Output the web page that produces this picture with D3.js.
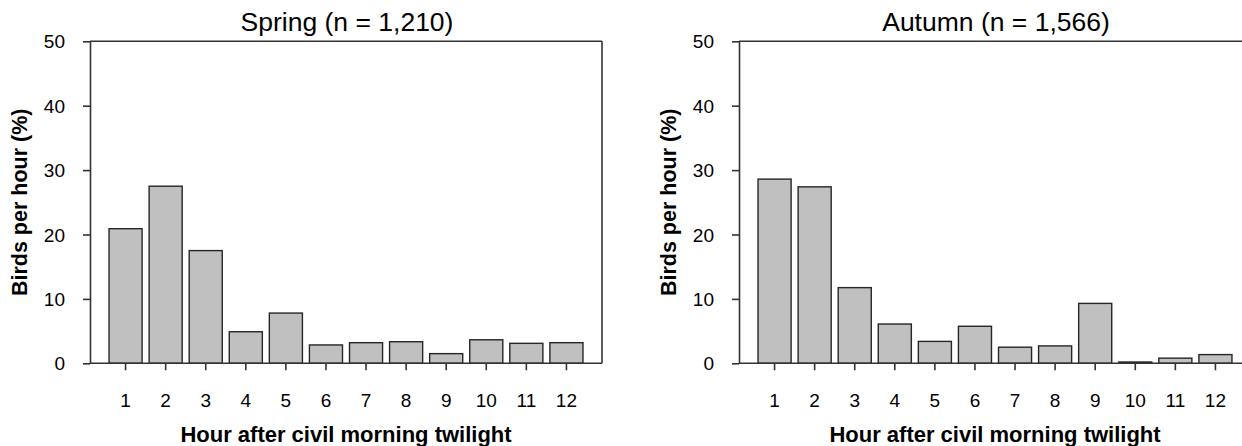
<!DOCTYPE html>
<html>
<head>
<meta charset="utf-8">
<script src="https://cdn.jsdelivr.net/npm/d3@7"></script>
<style>
  html, body { margin: 0; padding: 0; background: #fff; }
  svg { display: block; }
  text { font-family: "Liberation Sans", Arial, sans-serif; fill: #000; }
</style>
</head>
<body>
<svg id="chart" width="1242" height="446"></svg>
<script>
// ---- data ----
const hours = [1, 2, 3, 4, 5, 6, 7, 8, 9, 10, 11, 12];
const springValues = [20.9, 27.5, 17.5, 4.9, 7.8, 2.85, 3.2, 3.35, 1.5, 3.65, 3.1, 3.2];
const autumnValues = [28.6, 27.4, 11.75, 6.1, 3.4, 5.75, 2.5, 2.7, 9.3, 0.2, 0.8, 1.35];
const panelTitles = ["Spring (n = 1,210)", "Autumn (n = 1,566)"];
const yTicks = [0, 10, 20, 30, 40, 50];
const xAxisTitle = "Hour after civil morning twilight";
const yAxisTitle = "Birds per hour (%)";

(function () {
  const svg = d3.select("#chart");
  const panels = [
    { title: panelTitles[0], values: springValues, left: 90 },
    { title: panelTitles[1], values: autumnValues, left: 739 }
  ];
  const plotW = 512, plotTop = 41.3, plotBottom = 363.3;
  const axisColor = "#333";

  panels.forEach(p => {
    const g = svg.append("g");
    const x = d3.scaleBand().domain(hours).range([p.left, p.left + plotW])
      .paddingInner(0.175).paddingOuter(0.475);
    const y = d3.scaleLinear().domain([0, 50]).range([plotBottom, plotTop]);

    // bars
    g.selectAll("rect.bar").data(p.values).join("rect")
      .attr("class", "bar")
      .attr("x", (d, i) => x(hours[i]))
      .attr("width", x.bandwidth())
      .attr("y", d => y(d))
      .attr("height", d => y(0) - y(d))
      .attr("fill", "#c0c0c0")
      .attr("stroke", "#262626")
      .attr("stroke-width", 1.4);

    // frame (top and right)
    g.append("line").attr("x1", p.left).attr("x2", p.left + plotW)
      .attr("y1", plotTop).attr("y2", plotTop).attr("stroke", axisColor).attr("stroke-width", 1.6);
    g.append("line").attr("x1", p.left + plotW).attr("x2", p.left + plotW)
      .attr("y1", plotTop).attr("y2", plotBottom).attr("stroke", axisColor).attr("stroke-width", 1.6);
    // x axis line
    g.append("line").attr("x1", p.left).attr("x2", p.left + plotW)
      .attr("y1", plotBottom).attr("y2", plotBottom).attr("stroke", axisColor).attr("stroke-width", 1.6);

    // y axis
    const ya = g.append("g").attr("transform", `translate(${p.left},0)`)
      .call(d3.axisLeft(y).tickValues(yTicks).tickSize(7).tickSizeOuter(0).tickPadding(18));
    ya.select(".domain").attr("stroke", axisColor).attr("stroke-width", 1.6);
    ya.selectAll(".tick line").attr("stroke", axisColor).attr("stroke-width", 1.6);
    ya.selectAll(".tick text").style("font-size", "19px").attr("font-family", null)
      .attr("dy", "0.35em");

    // x axis
    const xa = g.append("g").attr("transform", `translate(0,${plotBottom})`)
      .call(d3.axisBottom(x).tickSize(7).tickSizeOuter(0).tickPadding(22.9));
    xa.select(".domain").remove();
    xa.selectAll(".tick line").attr("stroke", axisColor).attr("stroke-width", 1.6);
    xa.selectAll(".tick text").style("font-size", "19px").attr("font-family", null);

    // title
    g.append("text")
      .attr("x", p.left + plotW / 2 + 1).attr("y", 31)
      .attr("text-anchor", "middle")
      .style("font-size", "26.5px")
      .text(p.title);

    // axis titles
    g.append("text")
      .attr("x", p.left + plotW / 2).attr("y", 442)
      .attr("text-anchor", "middle")
      .style("font-size", "22px").style("font-weight", "bold")
      .text(xAxisTitle);
    g.append("text")
      .attr("transform", `translate(${p.left - 63},${(plotTop + plotBottom) / 2}) rotate(-90)`)
      .attr("text-anchor", "middle")
      .style("font-size", "21.5px").style("font-weight", "bold")
      .text(yAxisTitle);
  });
})();
</script>
</body>
</html>
